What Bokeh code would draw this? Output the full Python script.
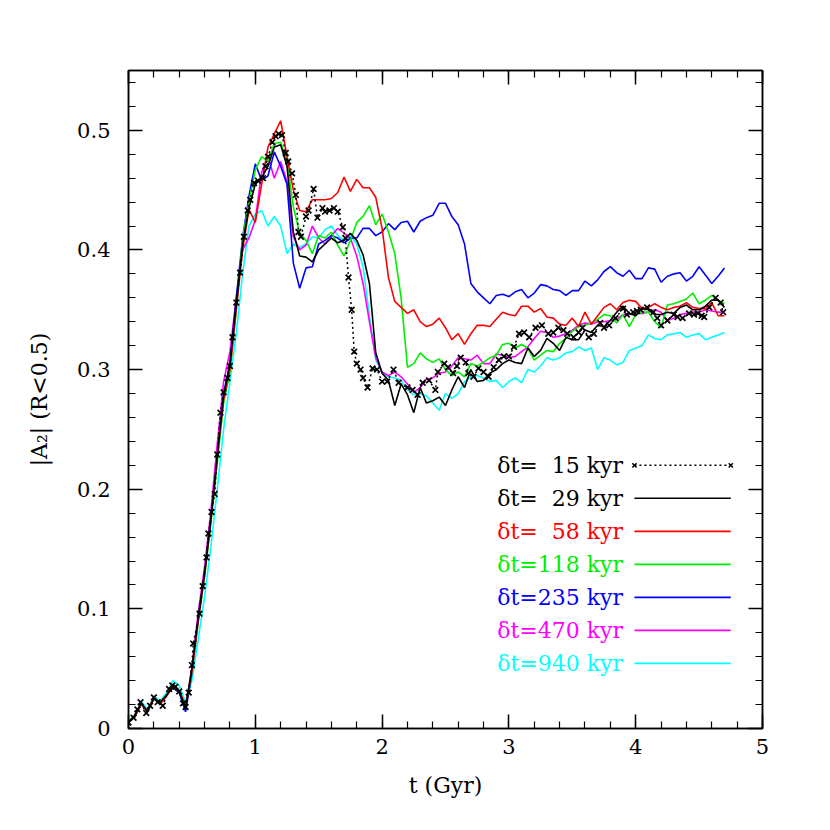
from bokeh.plotting import figure
from bokeh.models import (LinearAxis, SingleIntervalTicker, CustomJSTickFormatter, Range1d,
                          Label, ColumnDataSource)
from bokeh.embed import file_html
from bokeh.resources import INLINE

# ---------------- data (t in Gyr, |A2| values) ----------------
t = [0.00, 0.05, 0.10, 0.15, 0.20, 0.25, 0.30, 0.35, 0.40, 0.45,
     0.50, 0.55, 0.60, 0.65, 0.70, 0.75, 0.80, 0.85, 0.90, 0.95,
     1.00, 1.05, 1.10, 1.15, 1.20, 1.25, 1.30, 1.35, 1.40, 1.45,
     1.50, 1.55, 1.60, 1.65, 1.70, 1.75, 1.80, 1.85, 1.90, 1.95,
     2.00, 2.05, 2.10, 2.15, 2.20, 2.25, 2.30, 2.35, 2.40, 2.45,
     2.50, 2.55, 2.60, 2.65, 2.70, 2.75, 2.80, 2.85, 2.90, 2.95,
     3.00, 3.05, 3.10, 3.15, 3.20, 3.25, 3.30, 3.35, 3.40, 3.45,
     3.50, 3.55, 3.60, 3.65, 3.70, 3.75, 3.80, 3.85, 3.90, 3.95,
     4.00, 4.05, 4.10, 4.15, 4.20, 4.25, 4.30, 4.35, 4.40, 4.45,
     4.50, 4.55, 4.60, 4.65, 4.70]

# dt = 15 kyr run (sampled more densely, read point by point)
t_15kyr = [0.00, 0.04, 0.07, 0.095, 0.14, 0.17, 0.20, 0.23, 0.27, 0.32,
           0.345, 0.37, 0.40, 0.43, 0.45, 0.475, 0.50, 0.51, 0.56, 0.585,
           0.615, 0.63, 0.655, 0.68, 0.70, 0.725, 0.75, 0.78, 0.80, 0.82,
           0.85, 0.88, 0.91, 0.94, 0.96, 0.99, 1.02, 1.06, 1.08, 1.10,
           1.135, 1.16, 1.185, 1.21, 1.24, 1.26, 1.29, 1.32, 1.34, 1.36,
           1.40, 1.42, 1.46, 1.49, 1.53, 1.55, 1.585, 1.62, 1.65, 1.69,
           1.71, 1.735, 1.76, 1.78, 1.80, 1.83, 1.85, 1.885, 1.925, 1.96,
           2.00, 2.04, 2.09, 2.13, 2.20, 2.24, 2.28, 2.32, 2.37, 2.42,
           2.44, 2.49, 2.52, 2.56, 2.59, 2.62, 2.66, 2.68, 2.72, 2.76,
           2.80, 2.84, 2.88, 2.92, 2.96, 3.00, 3.04, 3.08, 3.12, 3.16,
           3.21, 3.26, 3.31, 3.35, 3.39, 3.43, 3.46, 3.51, 3.55, 3.58,
           3.63, 3.67, 3.72, 3.75, 3.79, 3.84, 3.90, 3.93, 3.98, 4.01,
           4.04, 4.09, 4.14, 4.17, 4.20, 4.25, 4.30, 4.33, 4.37, 4.42,
           4.46, 4.49, 4.52, 4.54, 4.58, 4.63, 4.67, 4.69]
a2_15kyr = [0.005, 0.009, 0.016, 0.022, 0.013, 0.019, 0.026, 0.022, 0.019, 0.033,
            0.036, 0.035, 0.031, 0.021, 0.018, 0.030, 0.053, 0.071, 0.096, 0.119,
            0.143, 0.163, 0.181, 0.196, 0.229, 0.264, 0.281, 0.293, 0.303, 0.327,
            0.356, 0.381, 0.411, 0.433, 0.442, 0.456, 0.458, 0.460, 0.470, 0.478,
            0.490, 0.495, 0.497, 0.496, 0.481, 0.474, 0.464, 0.446, 0.415, 0.411,
            0.428, 0.433, 0.451, 0.427, 0.435, 0.432, 0.433, 0.435, 0.432, 0.419,
            0.410, 0.377, 0.350, 0.315, 0.305, 0.300, 0.293, 0.285, 0.301, 0.300,
            0.290, 0.290, 0.300, 0.289, 0.285, 0.283, 0.279, 0.289, 0.291, 0.283,
            0.298, 0.305, 0.302, 0.297, 0.303, 0.310, 0.306, 0.297, 0.294, 0.301,
            0.298, 0.294, 0.302, 0.308, 0.311, 0.311, 0.319, 0.330, 0.331, 0.327,
            0.335, 0.337, 0.330, 0.331, 0.335, 0.333, 0.330, 0.327, 0.331, 0.335,
            0.327, 0.330, 0.339, 0.335, 0.337, 0.343, 0.351, 0.346, 0.348, 0.349,
            0.350, 0.352, 0.348, 0.343, 0.337, 0.341, 0.346, 0.344, 0.343, 0.347,
            0.346, 0.347, 0.345, 0.344, 0.352, 0.360, 0.356, 0.348]

a2_29kyr = [0.005, 0.011, 0.021, 0.014, 0.025, 0.022, 0.028, 0.034, 0.031, 0.017,
            0.050, 0.093, 0.130, 0.175, 0.228, 0.278, 0.305, 0.355, 0.405, 0.435,
            0.455, 0.460, 0.470, 0.486, 0.488, 0.470, 0.415, 0.395, 0.394, 0.390,
            0.400, 0.405, 0.410, 0.406, 0.408, 0.414, 0.408, 0.396, 0.372, 0.314,
            0.297, 0.291, 0.270, 0.288, 0.279, 0.264, 0.285, 0.272, 0.274, 0.277,
            0.270, 0.283, 0.294, 0.285, 0.300, 0.290, 0.291, 0.297, 0.300, 0.305,
            0.308, 0.306, 0.305, 0.318, 0.311, 0.316, 0.326, 0.322, 0.316, 0.327,
            0.325, 0.325, 0.333, 0.331, 0.337, 0.336, 0.341, 0.348, 0.353, 0.347,
            0.345, 0.351, 0.350, 0.346, 0.346, 0.348, 0.347, 0.352, 0.354, 0.350,
            0.350, 0.353, 0.358, 0.358, 0.352]

a2_58kyr = [0.006, 0.010, 0.020, 0.015, 0.026, 0.020, 0.027, 0.035, 0.031, 0.020,
            0.048, 0.090, 0.128, 0.174, 0.226, 0.275, 0.300, 0.350, 0.400, 0.434,
            0.423, 0.455, 0.486, 0.497, 0.508, 0.478, 0.450, 0.433, 0.432, 0.442,
            0.442, 0.442, 0.443, 0.448, 0.461, 0.449, 0.459, 0.452, 0.452, 0.444,
            0.418, 0.377, 0.357, 0.352, 0.347, 0.350, 0.340, 0.336, 0.338, 0.343,
            0.335, 0.325, 0.330, 0.321, 0.330, 0.337, 0.337, 0.336, 0.342, 0.348,
            0.346, 0.345, 0.353, 0.353, 0.348, 0.351, 0.344, 0.343, 0.338, 0.337,
            0.343, 0.336, 0.348, 0.338, 0.345, 0.352, 0.355, 0.350, 0.356, 0.358,
            0.357, 0.351, 0.352, 0.355, 0.352, 0.350, 0.352, 0.353, 0.356, 0.352,
            0.351, 0.351, 0.356, 0.345, 0.345]

a2_118kyr = [0.006, 0.011, 0.021, 0.014, 0.025, 0.021, 0.028, 0.034, 0.032, 0.019,
             0.047, 0.089, 0.127, 0.172, 0.222, 0.272, 0.298, 0.350, 0.410, 0.440,
             0.467, 0.478, 0.474, 0.489, 0.490, 0.474, 0.436, 0.414, 0.408, 0.397,
             0.412, 0.410, 0.415, 0.404, 0.395, 0.408, 0.423, 0.428, 0.437, 0.421,
             0.430, 0.415, 0.397, 0.360, 0.302, 0.305, 0.314, 0.309, 0.306, 0.309,
             0.300, 0.295, 0.298, 0.294, 0.305, 0.303, 0.306, 0.310, 0.312, 0.321,
             0.322, 0.318, 0.321, 0.318, 0.308, 0.312, 0.316, 0.315, 0.322, 0.326,
             0.332, 0.336, 0.337, 0.339, 0.342, 0.346, 0.345, 0.339, 0.346, 0.336,
             0.346, 0.348, 0.348, 0.340, 0.335, 0.354, 0.355, 0.357, 0.359, 0.364,
             0.355, 0.358, 0.362, 0.358, 0.355]

a2_235kyr = [0.005, 0.010, 0.021, 0.014, 0.025, 0.021, 0.028, 0.034, 0.030, 0.014,
             0.046, 0.092, 0.130, 0.176, 0.226, 0.280, 0.305, 0.360, 0.410, 0.445,
             0.472, 0.458, 0.462, 0.482, 0.470, 0.455, 0.389, 0.368, 0.385, 0.386,
             0.405, 0.408, 0.412, 0.410, 0.406, 0.410, 0.410, 0.418, 0.418, 0.412,
             0.415, 0.422, 0.417, 0.423, 0.424, 0.415, 0.424, 0.427, 0.429, 0.439,
             0.439, 0.428, 0.421, 0.405, 0.372, 0.365, 0.360, 0.355, 0.362, 0.363,
             0.361, 0.365, 0.367, 0.360, 0.364, 0.371, 0.370, 0.367, 0.366, 0.362,
             0.366, 0.366, 0.374, 0.370, 0.375, 0.382, 0.386, 0.381, 0.378, 0.383,
             0.376, 0.376, 0.385, 0.384, 0.373, 0.378, 0.380, 0.381, 0.374, 0.378,
             0.386, 0.379, 0.372, 0.378, 0.385]

a2_470kyr = [0.006, 0.010, 0.021, 0.015, 0.026, 0.021, 0.028, 0.036, 0.031, 0.016,
             0.051, 0.097, 0.135, 0.182, 0.238, 0.290, 0.315, 0.360, 0.400, 0.410,
             0.425, 0.465, 0.478, 0.460, 0.474, 0.457, 0.411, 0.400, 0.404, 0.420,
             0.410, 0.405, 0.412, 0.418, 0.414, 0.410, 0.395, 0.372, 0.340, 0.310,
             0.298, 0.295, 0.298, 0.294, 0.288, 0.281, 0.285, 0.292, 0.293, 0.297,
             0.298, 0.303, 0.310, 0.309, 0.308, 0.312, 0.305, 0.305, 0.313, 0.312,
             0.310, 0.311, 0.315, 0.319, 0.326, 0.332, 0.331, 0.327, 0.328, 0.330,
             0.333, 0.337, 0.339, 0.338, 0.340, 0.340, 0.341, 0.342, 0.346, 0.346,
             0.347, 0.347, 0.348, 0.350, 0.348, 0.341, 0.343, 0.346, 0.347, 0.348,
             0.348, 0.350, 0.349, 0.348, 0.348]

a2_940kyr = [0.006, 0.011, 0.023, 0.016, 0.027, 0.023, 0.030, 0.040, 0.036, 0.022,
             0.040, 0.075, 0.110, 0.152, 0.200, 0.250, 0.290, 0.330, 0.380, 0.420,
             0.430, 0.433, 0.420, 0.428, 0.420, 0.397, 0.405, 0.402, 0.405, 0.411,
             0.410, 0.417, 0.420, 0.412, 0.408, 0.412, 0.405, 0.386, 0.345, 0.308,
             0.297, 0.294, 0.293, 0.291, 0.283, 0.279, 0.280, 0.278, 0.272, 0.266,
             0.280, 0.276, 0.280, 0.290, 0.294, 0.295, 0.293, 0.290, 0.291, 0.285,
             0.290, 0.293, 0.289, 0.300, 0.298, 0.303, 0.310, 0.308, 0.310, 0.314,
             0.315, 0.319, 0.316, 0.318, 0.300, 0.310, 0.308, 0.304, 0.306, 0.316,
             0.318, 0.320, 0.329, 0.326, 0.325, 0.329, 0.330, 0.331, 0.327, 0.329,
             0.330, 0.325, 0.327, 0.329, 0.331]

legend_labels = ["\u03b4t=\u200715\u00a0kyr", "\u03b4t=\u200729\u00a0kyr", "\u03b4t=\u200758\u00a0kyr",
                 "\u03b4t=118\u00a0kyr", "\u03b4t=235\u00a0kyr", "\u03b4t=470\u00a0kyr", "\u03b4t=940\u00a0kyr"]
series_colors = ["black", "black", "#ff0000", "#00ee00", "#0000ff", "#ff00ff", "#00ffff"]

# ---------------- layout / style constants ----------------
FONT = "DejaVu Serif"
LEG_TEXT_X = 3.90
LEG_LINE_X0 = 3.99
LEG_LINE_X1 = 4.75
LEG_Y0 = 0.220
LEG_DY = 0.0276

p = figure(frame_width=634, frame_height=658,
           min_border_left=128, min_border_top=70, min_border_bottom=70, min_border_right=40,
           x_range=Range1d(0, 5), y_range=Range1d(0, 0.55),
           output_backend="svg", toolbar_location=None,
           x_axis_label="t (Gyr)", y_axis_label="|A\u2082| (R<0.5)")
p.xgrid.visible = False
p.ygrid.visible = False
p.outline_line_color = "black"
p.outline_line_width = 1.5
p.background_fill_color = "white"
p.border_fill_color = "white"

x_fmt_code = "return tick.toFixed(0);"
y_fmt_code = "return Math.abs(tick) < 1e-9 ? '0' : tick.toFixed(1);"

def style_axis(ax, ticker, code, labels=True):
    ax.ticker = ticker
    ax.formatter = CustomJSTickFormatter(code=code)
    ax.axis_line_color = "black"
    ax.axis_line_width = 1.5
    ax.major_tick_in = 14
    ax.major_tick_out = 0
    ax.minor_tick_in = 7
    ax.minor_tick_out = 0
    ax.major_tick_line_width = 1.5
    ax.minor_tick_line_width = 1.2
    ax.major_label_text_font = FONT
    ax.major_label_text_font_size = "21px"
    ax.major_label_text_color = "black"
    ax.axis_label_text_font = FONT
    ax.axis_label_text_font_size = "22px"
    ax.axis_label_text_font_style = "normal"
    ax.axis_label_text_color = "black"
    if not labels:
        ax.major_label_text_font_size = "0px"
        ax.major_label_text_alpha = 0

style_axis(p.xaxis[0], SingleIntervalTicker(interval=1, num_minor_ticks=5), x_fmt_code)
style_axis(p.yaxis[0], SingleIntervalTicker(interval=0.1, num_minor_ticks=5), y_fmt_code)
p.xaxis[0].major_label_standoff = 10
p.xaxis[0].axis_label_standoff = 16
p.yaxis[0].major_label_standoff = 18
p.yaxis[0].axis_label_standoff = 22

top = LinearAxis()
right = LinearAxis()
style_axis(top, SingleIntervalTicker(interval=1, num_minor_ticks=5), x_fmt_code, labels=False)
style_axis(right, SingleIntervalTicker(interval=0.1, num_minor_ticks=5), y_fmt_code, labels=False)
p.add_layout(top, "above")
p.add_layout(right, "right")

src = ColumnDataSource(dict(t=t, s29=a2_29kyr, s58=a2_58kyr, s118=a2_118kyr,
                            s235=a2_235kyr, s470=a2_470kyr, s940=a2_940kyr))
src15 = ColumnDataSource(dict(t=t_15kyr, s15=a2_15kyr))

LW = 1.6
for key, col in [("s940", series_colors[6]), ("s470", series_colors[5]),
                 ("s235", series_colors[4]), ("s118", series_colors[3]),
                 ("s58", series_colors[2]), ("s29", series_colors[1])]:
    p.line("t", key, source=src, line_color=col, line_width=LW)

p.line("t", "s15", source=src15, line_color="black", line_width=1.5, line_dash="2 3")
p.scatter("t", "s15", source=src15, marker="x", size=8, line_color="black", line_width=1.7)

# legend (manual: text on the left, sample line on the right)
for i, (lab, col) in enumerate(zip(legend_labels, series_colors)):
    y = LEG_Y0 - i * LEG_DY
    p.add_layout(Label(x=LEG_TEXT_X, y=y, text=lab, text_align="right", text_baseline="middle",
                       text_font=FONT, text_font_size="22px", text_color=col))
    if i == 0:
        p.line([LEG_LINE_X0, LEG_LINE_X1], [y, y], line_color="black", line_width=1.4, line_dash="2 3")
        p.scatter([LEG_LINE_X0, LEG_LINE_X1], [y, y], marker="x", size=6, line_color="black", line_width=1.5)
    else:
        p.line([LEG_LINE_X0, LEG_LINE_X1], [y, y], line_color=col, line_width=LW)

open("out.html", "w").write(file_html(p, INLINE))
